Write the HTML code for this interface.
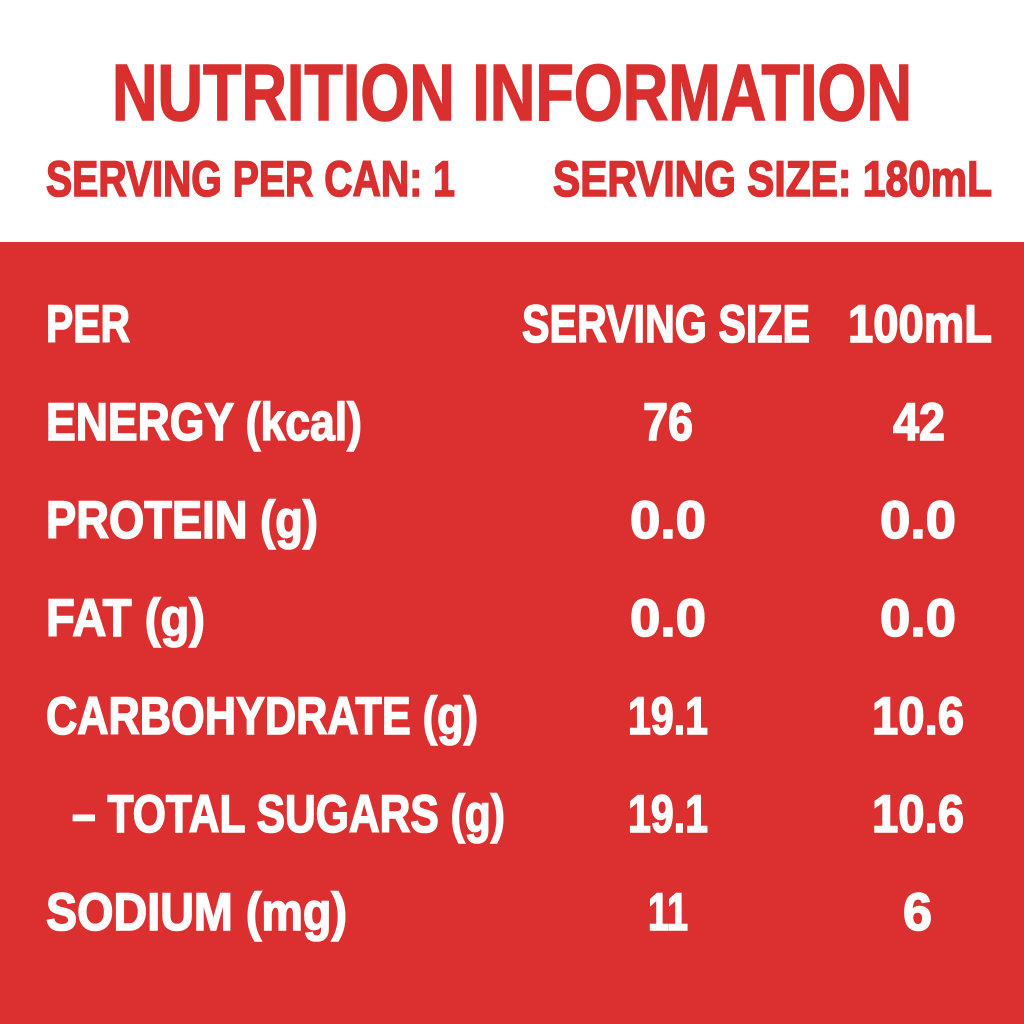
<!DOCTYPE html>
<html><head><meta charset="utf-8"><style>
html,body{margin:0;padding:0;background:#fff}
svg{display:block}
text{font-family:"Liberation Sans Narrow","Liberation Sans",sans-serif;font-weight:bold}
</style></head><body>
<svg width="1024" height="1024" viewBox="0 0 1024 1024" xmlns="http://www.w3.org/2000/svg">
<rect x="0" y="0" width="1024" height="242" fill="#ffffff"/>
<rect x="0" y="242" width="1024" height="782" fill="#dc3030"/>
<g fill="#d92f2f" stroke="#d92f2f" stroke-width="1.6">
<text x="112" y="120" font-size="80" textLength="800" lengthAdjust="spacingAndGlyphs">NUTRITION INFORMATION</text>
<text x="46" y="196" font-size="50" textLength="409" lengthAdjust="spacingAndGlyphs">SERVING PER CAN: 1</text>
<text x="553" y="196" font-size="50" textLength="439" lengthAdjust="spacingAndGlyphs">SERVING SIZE: 180mL</text>
</g>
<g fill="#ffffff" stroke="#ffffff" stroke-width="1.6" font-size="53">
<text x="46" y="342" textLength="84" lengthAdjust="spacingAndGlyphs">PER</text>
<text x="522" y="342" textLength="288" lengthAdjust="spacingAndGlyphs">SERVING SIZE</text>
<text x="848" y="342" textLength="144" lengthAdjust="spacingAndGlyphs">100mL</text>

<text x="46" y="440" textLength="316" lengthAdjust="spacingAndGlyphs">ENERGY (kcal)</text>
<text x="643" y="440" textLength="50" lengthAdjust="spacingAndGlyphs">76</text>
<text x="893" y="440" textLength="52" lengthAdjust="spacingAndGlyphs">42</text>

<text x="46" y="538" textLength="272" lengthAdjust="spacingAndGlyphs">PROTEIN (g)</text>
<text x="630" y="538" textLength="76" lengthAdjust="spacingAndGlyphs">0.0</text>
<text x="880" y="538" textLength="76" lengthAdjust="spacingAndGlyphs">0.0</text>

<text x="46" y="636" textLength="159" lengthAdjust="spacingAndGlyphs">FAT (g)</text>
<text x="630" y="636" textLength="76" lengthAdjust="spacingAndGlyphs">0.0</text>
<text x="880" y="636" textLength="76" lengthAdjust="spacingAndGlyphs">0.0</text>

<text x="46" y="734" textLength="432" lengthAdjust="spacingAndGlyphs">CARBOHYDRATE (g)</text>
<text x="628" y="734" textLength="80" lengthAdjust="spacingAndGlyphs">19.1</text>
<text x="872" y="734" textLength="92" lengthAdjust="spacingAndGlyphs">10.6</text>

<text x="72" y="832" textLength="433" lengthAdjust="spacingAndGlyphs">– TOTAL SUGARS (g)</text>
<text x="628" y="832" textLength="80" lengthAdjust="spacingAndGlyphs">19.1</text>
<text x="872" y="832" textLength="92" lengthAdjust="spacingAndGlyphs">10.6</text>

<text x="46" y="930" textLength="301" lengthAdjust="spacingAndGlyphs">SODIUM (mg)</text>
<text x="648" y="930" textLength="40" lengthAdjust="spacingAndGlyphs">11</text>
<text x="903" y="930" textLength="29" lengthAdjust="spacingAndGlyphs">6</text>
</g>
</svg>
</body></html>
